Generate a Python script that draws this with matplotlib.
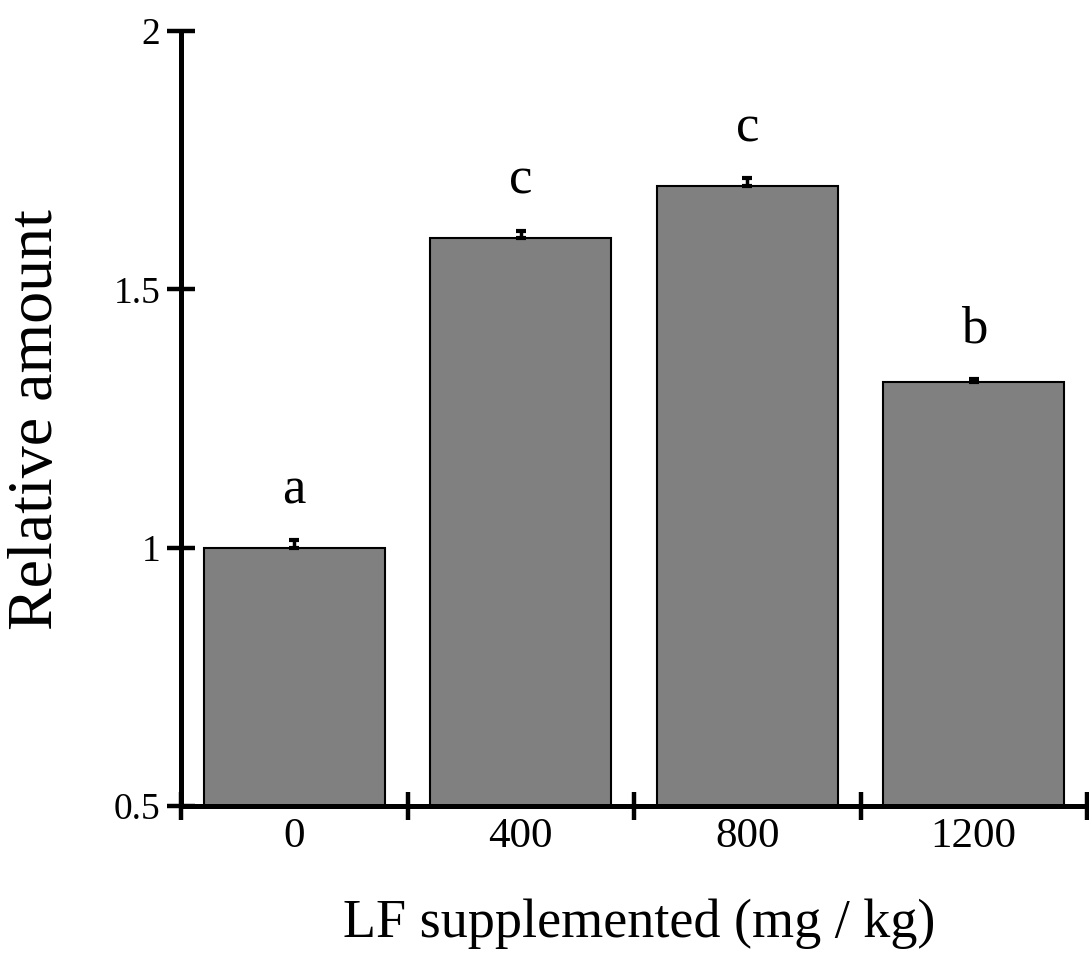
import matplotlib
matplotlib.use("Agg")
import matplotlib.pyplot as plt
import numpy as np

categories = ["0", "400", "800", "1200"]
values = [1.00, 1.60, 1.70, 1.32]
errors = [0.014, 0.013, 0.015, 0.006]
letters = ["a", "c", "c", "b"]
y_ticks = [0.5, 1.0, 1.5, 2.0]
y_ticklabels = ["0.5", "1", "1.5", "2"]

plt.rcParams['font.family'] = ['Liberation Serif', 'DejaVu Serif']

fig = plt.figure(figsize=(10.89, 9.55), dpi=100)
ax = fig.add_axes([181/1089, 1-806/955, (1087-181)/1089, (806-31)/955])

x = np.arange(len(categories))
ax.bar(x, np.array(values) - 0.5, bottom=0.5, width=0.8, color='#808080',
       edgecolor='black', linewidth=1.5, zorder=2)
ax.errorbar(x, values, yerr=[np.zeros(len(errors)), errors], fmt='none',
            ecolor='black', elinewidth=2.5, capsize=3.6, capthick=3, zorder=3)
for xi, v, e, l in zip(x, values, errors, letters):
    ax.text(xi, v + e + 0.072, l, ha='center', va='baseline', fontsize=38)

ax.set_xlim(-0.5, 3.5)
ax.set_ylim(0.5, 2.0)
ax.set_yticks(y_ticks)
ax.set_yticklabels(y_ticklabels)
ax.set_xticks(np.arange(-0.5, 3.6, 1.0))
ax.set_xticklabels([])
ax.set_xticks(x, minor=True)
ax.set_xticklabels(categories, minor=True)

for s in ['top', 'right']:
    ax.spines[s].set_visible(False)
for s in ['left', 'bottom']:
    ax.spines[s].set_linewidth(3.6)
ax.tick_params(axis='both', which='major', direction='inout', length=19.5, width=3.2)
ax.tick_params(axis='y', which='major', pad=5, labelsize=27)
ax.tick_params(axis='x', which='minor', length=0, labelsize=31, pad=8)

fig.text(37/1089, 1-420/955, "Relative amount", rotation=90, ha='center', va='center',
         fontsize=46)
fig.text(639/1089, 1-937/955, "LF supplemented (mg / kg)", ha='center', va='baseline',
         fontsize=39)

fig.savefig("out.png", dpi=100)
